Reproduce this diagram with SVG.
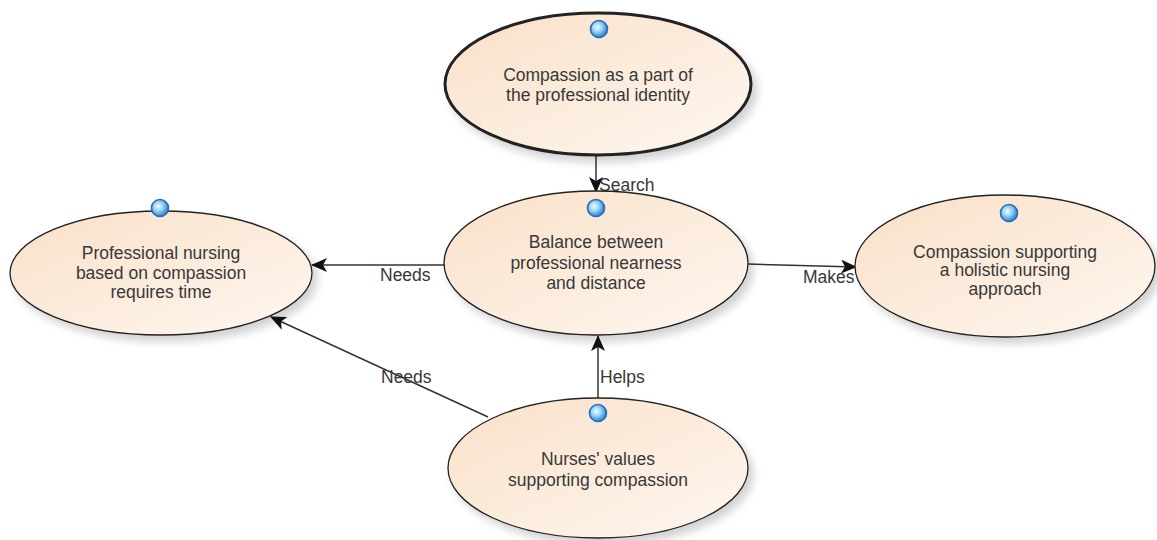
<svg xmlns="http://www.w3.org/2000/svg" width="1157" height="540" viewBox="0 0 1157 540">
<defs>
<linearGradient id="fillG" x1="0" y1="0" x2="1" y2="1">
<stop offset="0" stop-color="#f9e0c8"/>
<stop offset="1" stop-color="#fef7f0"/>
</linearGradient>
<radialGradient id="dotG" cx="0.4" cy="0.4" r="0.6">
<stop offset="0" stop-color="#f2fbff"/>
<stop offset="0.5" stop-color="#8fd0f6"/>
<stop offset="1" stop-color="#2a80d0"/>
</radialGradient>
<filter id="sh" x="-10%" y="-10%" width="125%" height="130%">
<feGaussianBlur in="SourceAlpha" stdDeviation="4"/>
<feOffset dx="5" dy="6" result="b"/>
<feComponentTransfer><feFuncA type="linear" slope="0.18"/></feComponentTransfer>
<feMerge><feMergeNode/><feMergeNode in="SourceGraphic"/></feMerge>
</filter>
<marker id="arr" viewBox="0 0 16 14" refX="15" refY="7" markerWidth="16" markerHeight="14" markerUnits="userSpaceOnUse" orient="auto">
<path d="M0,0 L16,7 L0,14 L4,7 z" fill="#111"/>
</marker>
</defs>
<style>
.node ellipse{fill:url(#fillG);stroke:#222;stroke-width:1.3;filter:url(#sh)}
.node .dot{fill:url(#dotG);stroke:#2a6db5;stroke-width:1.6}
text{font-family:"Liberation Sans",Arial,sans-serif;font-size:17.5px;fill:#383838}
.node text{text-anchor:middle}
.conn line{stroke:#333;stroke-width:1.5;marker-end:url(#arr)}
</style>
<rect width="1157" height="540" fill="#fff"/>
<g class="conn" id="connectors">
<line x1="596" y1="155" x2="596" y2="192"/>
<line x1="445" y1="265" x2="312" y2="265"/>
<line x1="748" y1="264" x2="856" y2="267"/>
<line x1="598" y1="398" x2="598" y2="336"/>
<line x1="488" y1="417" x2="271" y2="317"/>
<text x="599" y="191">Search</text>
<text x="380" y="281">Needs</text>
<text x="803" y="283">Makes</text>
<text x="600" y="383">Helps</text>
<text x="381" y="383">Needs</text>
</g>
<g class="node" id="n-identity">
<ellipse cx="598" cy="84" rx="153" ry="71" style="stroke-width:3"/>
<circle class="dot" cx="599" cy="29" r="8.5"/>
<text x="598" y="81">Compassion as a part of</text>
<text x="598" y="101">the professional identity</text>
</g>
<g class="node" id="n-balance">
<ellipse cx="596" cy="263" rx="152" ry="72"/>
<circle class="dot" cx="596" cy="208" r="8.5"/>
<text x="596" y="248">Balance between</text>
<text x="596" y="269">professional nearness</text>
<text x="596" y="289">and distance</text>
</g>
<g class="node" id="n-time">
<ellipse cx="161" cy="273" rx="151" ry="62"/>
<circle class="dot" cx="160" cy="208" r="8.5"/>
<text x="161" y="259">Professional nursing</text>
<text x="161" y="279">based on compassion</text>
<text x="161" y="298">requires time</text>
</g>
<g class="node" id="n-holistic">
<ellipse cx="1005" cy="266" rx="150" ry="71"/>
<circle class="dot" cx="1009" cy="213" r="8.5"/>
<text x="1005" y="258">Compassion supporting</text>
<text x="1005" y="276">a holistic nursing</text>
<text x="1005" y="295">approach</text>
</g>
<g class="node" id="n-values">
<ellipse cx="598" cy="468" rx="150" ry="70"/>
<circle class="dot" cx="598" cy="413" r="8.5"/>
<text x="598" y="465">Nurses' values</text>
<text x="598" y="486">supporting compassion</text>
</g>
</svg>
